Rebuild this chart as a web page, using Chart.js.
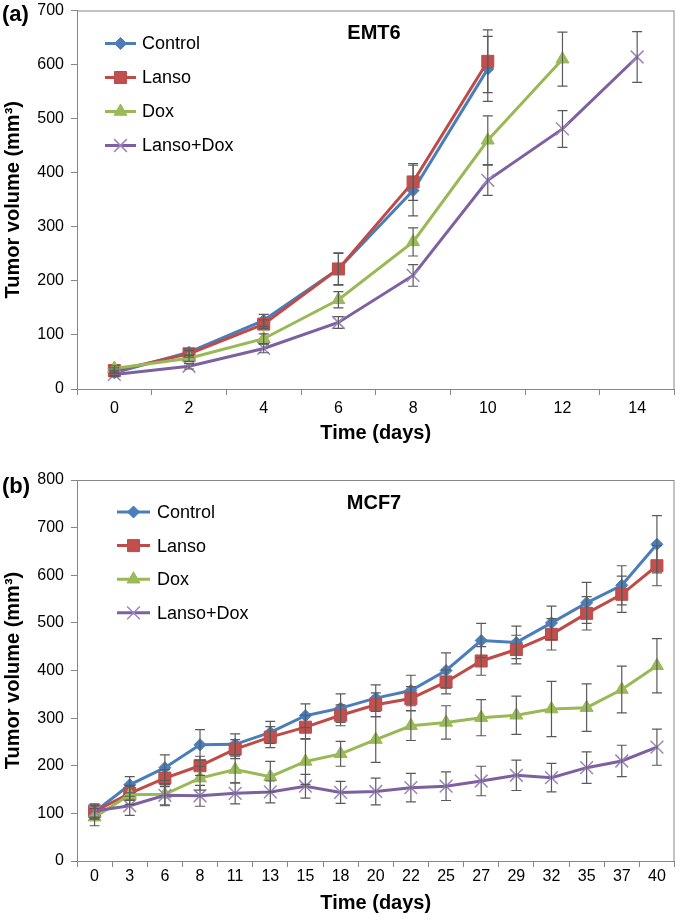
<!DOCTYPE html>
<html>
<head>
<meta charset="utf-8">
<script src="https://cdn.jsdelivr.net/npm/chart.js@4/dist/chart.umd.min.js"></script>
<style>
  body { margin: 0; background: #fff; }
  .panel { position: absolute; left: 0; }
</style>
</head>
<body>
<div class="panel" style="top:0"><canvas id="chartA" width="685" height="465"></canvas></div>
<div class="panel" style="top:465px"><canvas id="chartB" width="685" height="455"></canvas></div>
<script>
// series names
const seriesNames = ['Control', 'Lanso', 'Dox', 'Lanso+Dox'];

// (a) EMT6
const emt6Days = ['0', '2', '4', '6', '8', '10', '12', '14'];
const emt6Control = [30, 68, 127, 222, 367, 592, null, null];
const emt6ControlErr = [5, 6, 11, 29, 47, 60, null, null];
const emt6Lanso = [34, 65, 120, 222, 383, 606, null, null];
const emt6LansoErr = [5, 6, 8, 30, 34, 58, null, null];
const emt6Dox = [38, 57, 93, 165, 272, 460, 610, null];
const emt6DoxErr = [5, 6, 9, 15, 26, 45, 50, null];
const emt6LansoDox = [27, 42, 75, 123, 210, 386, 481, 614];
const emt6LansoDoxErr = [4, 5, 8, 11, 20, 28, 34, 47];

// (b) MCF7
const mcf7Days = ['0', '3', '6', '8', '11', '13', '15', '18', '20', '22', '25', '27', '29', '32', '35', '37', '40'];
const mcf7Control = [103, 160, 196, 244, 245, 270, 305, 321, 342, 358, 400, 463, 459, 500, 542, 579, 665];
const mcf7ControlErr = [15, 17, 27, 32, 22, 23, 25, 30, 28, 32, 37, 36, 34, 35, 43, 41, 60];
const mcf7Lanso = [104, 142, 174, 200, 235, 260, 281, 306, 328, 341, 376, 420, 444, 476, 520, 560, 620];
const mcf7LansoErr = [12, 15, 18, 20, 20, 22, 25, 22, 25, 25, 25, 30, 30, 33, 35, 38, 42];
const mcf7Dox = [92, 139, 140, 174, 192, 177, 209, 225, 255, 284, 291, 301, 306, 319, 322, 360, 410];
const mcf7DoxErr = [18, 20, 22, 25, 28, 32, 48, 26, 48, 31, 35, 38, 40, 58, 50, 49, 57];
const mcf7LansoDox = [105, 116, 138, 137, 142, 145, 157, 144, 146, 154, 157, 168, 180, 175, 196, 210, 239];
const mcf7LansoDoxErr = [15, 20, 22, 22, 22, 23, 25, 23, 28, 30, 30, 31, 32, 30, 33, 33, 38];

const FONT = "'Liberation Sans', Arial, sans-serif";
Chart.defaults.font.family = FONT;
Chart.defaults.color = '#000';

const styles = [
  { line: '#4A7EBB', fill: '#4A7EBB', stroke: '#4A7EBB', pointStyle: 'rectRot', radius: 6, bw: 1 },
  { line: '#BE4B48', fill: '#C0504D', stroke: '#BE4B48', pointStyle: 'rect', radius: 8.5, bw: 1 },
  { line: '#98B954', fill: '#9BBB59', stroke: '#98B954', pointStyle: 'triangle', radius: 7.5, bw: 1 },
  { line: '#7D60A0', fill: 'rgba(0,0,0,0)', stroke: '#9C86BD', pointStyle: 'crossRot', radius: 9, bw: 1.5 }
];

function makeDatasets(values, errors) {
  return values.map((v, i) => ({
    label: seriesNames[i],
    data: v,
    errors: errors[i],
    borderColor: styles[i].line,
    borderWidth: 3,
    pointStyle: styles[i].pointStyle,
    pointRadius: styles[i].radius,
    pointBackgroundColor: styles[i].fill,
    pointBorderColor: styles[i].stroke,
    pointBorderWidth: styles[i].bw,
    tension: 0,
    order: 3 - i
  }));
}

// vertical error bars from the y scale
const errorBars = {
  id: 'errorBars',
  afterDatasetsDraw(chart) {
    const ctx = chart.ctx;
    const y = chart.scales.y;
    ctx.save();
    ctx.strokeStyle = '#5a5a5a';
    ctx.lineWidth = 1.2;
    chart.data.datasets.forEach((ds, i) => {
      const meta = chart.getDatasetMeta(i);
      ds.data.forEach((v, j) => {
        const e = ds.errors[j];
        if (v == null || e == null) return;
        const x = meta.data[j].x;
        const top = y.getPixelForValue(v + e);
        const bot = y.getPixelForValue(v - e);
        ctx.beginPath();
        ctx.moveTo(x, top); ctx.lineTo(x, bot);
        ctx.moveTo(x - 5, top); ctx.lineTo(x + 5, top);
        ctx.moveTo(x - 5, bot); ctx.lineTo(x + 5, bot);
        ctx.stroke();
      });
    });
    ctx.restore();
  }
};

// box around the plot, legend inside, panel labels
const decorations = {
  id: 'decorations',
  afterDraw(chart, args, opts) {
    const ctx = chart.ctx;
    const a = chart.chartArea;
    ctx.save();
    ctx.strokeStyle = '#868686';
    ctx.lineWidth = 1;
    ctx.strokeRect(a.left + 0.5, a.top + 0.5, a.right - a.left - 1, a.bottom - a.top);

    // legend
    const lg = opts.legend;
    chart.data.datasets.forEach((ds, i) => {
      const yy = a.top + lg.top + i * lg.step;
      const x0 = a.left + lg.left;
      ctx.strokeStyle = ds.borderColor;
      ctx.lineWidth = 3;
      ctx.beginPath();
      ctx.moveTo(x0, yy); ctx.lineTo(x0 + lg.len, yy);
      ctx.stroke();
      ctx.fillStyle = ds.pointBackgroundColor;
      ctx.strokeStyle = ds.pointBorderColor;
      ctx.lineWidth = ds.pointBorderWidth;
      Chart.helpers.drawPoint(ctx, {
        pointStyle: ds.pointStyle, radius: ds.pointRadius, rotation: 0, borderWidth: ds.pointBorderWidth
      }, x0 + lg.len / 2, yy);
      ctx.fillStyle = '#000';
      ctx.font = '18px ' + FONT;
      ctx.textAlign = 'left';
      ctx.textBaseline = 'middle';
      ctx.fillText(ds.label, x0 + lg.len + lg.gap, yy + 1);
    });

    ctx.fillStyle = '#000';
    ctx.textBaseline = 'middle';
    ctx.font = 'bold 22px ' + FONT;
    ctx.textAlign = 'left';
    ctx.fillText(opts.letter, 2, opts.letterY);
    ctx.font = 'bold 20px ' + FONT;
    ctx.textAlign = 'center';
    ctx.fillText(opts.name, a.left + opts.nameX, a.top + opts.nameY);
    ctx.restore();
  }
};

function makeChart(id, labels, datasets, cfg) {
  return new Chart(document.getElementById(id), {
    type: 'line',
    data: { labels: labels, datasets: datasets },
    plugins: [errorBars, decorations],
    options: {
      responsive: false,
      animation: false,
      devicePixelRatio: 1,
      layout: { padding: { left: 0, right: 2, top: cfg.padTop, bottom: 0 } },
      plugins: {
        legend: { display: false },
        tooltip: { enabled: false },
        decorations: cfg.deco
      },
      scales: {
        x: {
          type: 'category',
          offset: true,
          grid: { offset: true, drawOnChartArea: false, tickLength: 6, color: '#868686' },
          border: { color: '#868686' },
          ticks: { font: { size: 16 }, padding: cfg.xTickPad, maxRotation: 0, autoSkip: false },
          title: { display: true, text: 'Time (days)', font: { size: 20, weight: 'bold' }, padding: { top: 0, bottom: cfg.xTitlePad } },
          afterFit(s) { s.height = cfg.xHeight; s.paddingLeft = 0; s.paddingRight = 0; }
        },
        y: {
          min: 0,
          max: cfg.yMax,
          ticks: { stepSize: 100, font: { size: 16 }, padding: 7 },
          grid: { drawOnChartArea: false, tickLength: 6, color: '#868686' },
          border: { color: '#868686' },
          title: { display: true, text: 'Tumor volume (mm³)', font: { size: 20, weight: 'bold' }, padding: { top: 1, bottom: 0 } },
          afterFit(s) { s.width = 77; s.paddingTop = 0; s.paddingBottom = 0; }
        }
      }
    }
  });
}

makeChart('chartA', emt6Days,
  makeDatasets([emt6Control, emt6Lanso, emt6Dox, emt6LansoDox],
               [emt6ControlErr, emt6LansoErr, emt6DoxErr, emt6LansoDoxErr]),
  { padTop: 6, yMax: 700, xHeight: 76, xTickPad: 4, xTitlePad: 20,
    deco: { letter: '(a)', letterY: 15, name: 'EMT6', nameX: 297, nameY: 23,
            legend: { left: 28, top: 33, step: 34, len: 31, gap: 6 } } });

makeChart('chartB', mcf7Days,
  makeDatasets([mcf7Control, mcf7Lanso, mcf7Dox, mcf7LansoDox],
               [mcf7ControlErr, mcf7LansoErr, mcf7DoxErr, mcf7LansoDoxErr]),
  { padTop: 15, yMax: 800, xHeight: 59, xTickPad: 0, xTitlePad: 5,
    deco: { letter: '(b)', letterY: 22, name: 'MCF7', nameX: 297, nameY: 23,
            legend: { left: 40, top: 32, step: 33.6, len: 33, gap: 7 } } });
</script>
</body>
</html>
